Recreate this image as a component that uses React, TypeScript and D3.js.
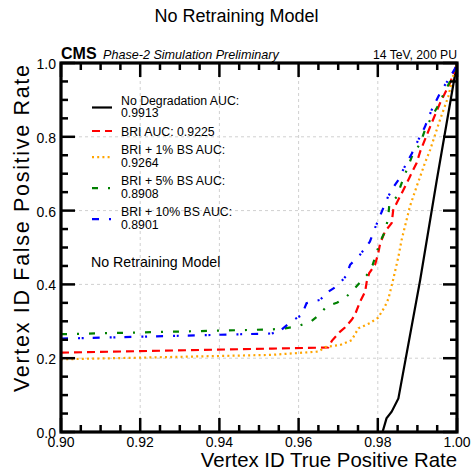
import React from "react";
import * as d3 from "d3";

// ---- data ----
const blackTPR = [0.9812, 0.9822, 0.9835, 0.9852, 0.9907, 0.9949, 0.9995, 1.0];
const blackFPR = [0.0, 0.037, 0.055, 0.091, 0.412, 0.683, 0.968, 1.0];

const redTPR = [0.9, 0.9532, 0.9675, 0.9684, 0.9705, 0.9717, 0.9734, 0.9742, 0.9755, 0.9768, 0.9772, 0.9778, 0.9793, 0.9801, 0.9806, 0.9818, 0.9835, 0.9839, 0.9856, 0.9873, 0.9881, 0.9898, 0.9907, 0.9932, 0.9957, 0.9982, 0.9995, 1.0];
const redFPR = [0.215, 0.226, 0.229, 0.247, 0.272, 0.283, 0.304, 0.317, 0.353, 0.38, 0.407, 0.43, 0.453, 0.484, 0.511, 0.543, 0.566, 0.602, 0.638, 0.674, 0.692, 0.729, 0.76, 0.827, 0.891, 0.945, 0.981, 1.0];

const orangeTPR = [0.9, 0.9532, 0.965, 0.9667, 0.9705, 0.9734, 0.9751, 0.978, 0.9801, 0.9818, 0.9827, 0.9839, 0.9852, 0.986, 0.9881, 0.9898, 0.9907, 0.9919, 0.9932, 0.9957, 0.9978, 0.9992, 1.0];
const orangeFPR = [0.197, 0.209, 0.218, 0.23, 0.236, 0.249, 0.281, 0.295, 0.31, 0.34, 0.362, 0.414, 0.475, 0.52, 0.611, 0.665, 0.692, 0.729, 0.764, 0.846, 0.909, 0.972, 1.0];

const greenTPR = [0.9, 0.9532, 0.9566, 0.96, 0.9633, 0.9654, 0.9671, 0.9698, 0.9721, 0.9738, 0.9755, 0.9772, 0.9787, 0.9806, 0.9818, 0.9826, 0.9829, 0.9848, 0.986, 0.9873, 0.9886, 0.9907, 0.9919, 0.9936, 0.9953, 0.9967, 0.9982, 0.9995, 1.0];
const greenFPR = [0.265, 0.278, 0.281, 0.287, 0.301, 0.319, 0.341, 0.351, 0.367, 0.385, 0.405, 0.425, 0.453, 0.516, 0.543, 0.579, 0.615, 0.638, 0.674, 0.71, 0.746, 0.782, 0.818, 0.854, 0.886, 0.918, 0.949, 0.981, 1.0];

const blueTPR = [0.9, 0.9532, 0.9553, 0.9583, 0.9608, 0.962, 0.9654, 0.9675, 0.97, 0.972, 0.973, 0.9755, 0.978, 0.9793, 0.981, 0.9826, 0.9843, 0.9852, 0.9866, 0.9886, 0.9902, 0.9919, 0.9936, 0.9961, 0.9978, 0.9995, 1.0];
const blueFPR = [0.253, 0.267, 0.274, 0.301, 0.317, 0.349, 0.358, 0.38, 0.398, 0.423, 0.453, 0.48, 0.516, 0.553, 0.597, 0.638, 0.669, 0.683, 0.715, 0.755, 0.791, 0.827, 0.873, 0.927, 0.954, 0.985, 1.0];

const legendLabels = [
  ["No Degradation AUC:", "0.9913"],
  ["BRI AUC: 0.9225"],
  ["BRI + 1% BS AUC:", "0.9264"],
  ["BRI + 5% BS AUC:", "0.8908"],
  ["BRI + 10% BS AUC:", "0.8901"],
];

const xTickLabels = ["0.90", "0.92", "0.94", "0.96", "0.98", "1.00"];
const yTickLabels = ["0.0", "0.2", "0.4", "0.6", "0.8", "1.0"];

const series = [
  { tpr: blackTPR, fpr: blackFPR, color: "#000000", dash: "none" },
  { tpr: redTPR, fpr: redFPR, color: "#ff0000", dash: "8,5" },
  { tpr: orangeTPR, fpr: orangeFPR, color: "#ffa500", dash: "2,3.2" },
  { tpr: greenTPR, fpr: greenFPR, color: "#008000", dash: "6,10,2,10" },
  { tpr: blueTPR, fpr: blueFPR, color: "#0000ff", dash: "7,10,2,1.7,2,9" },
];

const FONT = "'Liberation Sans', Arial, Helvetica, sans-serif";

export default function App() {
  const W = 473, H = 474;
  const L = 61, R = 457, T = 63, B = 432;
  const x = d3.scaleLinear().domain([0.9, 1.0]).range([L, R]);
  const y = d3.scaleLinear().domain([0, 1]).range([B, T]);

  const xMajor = xTickLabels.map(Number);
  const yMajor = yTickLabels.map(Number);
  const xMinor = d3.range(0, 21).map((i) => 0.9 + i * 0.005).filter((v) => !xMajor.some((m) => Math.abs(m - v) < 1e-9));
  const yMinor = d3.range(0, 21).map((i) => i * 0.05).filter((v) => !yMajor.some((m) => Math.abs(m - v) < 1e-9));

  const line = d3.line<[number, number]>().x((d) => x(d[0])).y((d) => y(d[1]));

  const majLen = 14, minLen = 7;

  // legend layout
  const lineH = 12.4;
  let cy = 100;
  const legendRows = legendLabels.map((lines, i) => {
    const row = { lines, top: cy, sampleY: lines.length > 1 ? cy + 7.5 : cy, s: series[i] };
    cy += lines.length * lineH + 6.2;
    return row;
  });

  return (
    <svg width={W} height={H} style={{ position: "absolute", left: 0, top: 0, background: "#fff" }} fontFamily={FONT}>
      <defs>
        <clipPath id="plotclip">
          <rect x={L} y={T} width={R - L} height={B - T} />
        </clipPath>
      </defs>
      <rect x={0} y={0} width={W} height={H} fill="#fff" />
      <text x={W / 2} y={22} textAnchor="middle" fontSize={18}>No Retraining Model</text>

      {/* grid */}
      {xMajor.slice(1, -1).map((v) => (
        <line key={"gx" + v} x1={x(v)} x2={x(v)} y1={T} y2={B} stroke="#d0d0d0" strokeWidth={1} strokeDasharray="3,3" />
      ))}
      {yMajor.slice(1, -1).map((v) => (
        <line key={"gy" + v} x1={L} x2={R} y1={y(v)} y2={y(v)} stroke="#d0d0d0" strokeWidth={1} strokeDasharray="3,3" />
      ))}

      {/* curves */}
      <g clipPath="url(#plotclip)">
        {series.map((s, i) => (
          <path key={i} d={line(s.tpr.map((t, j) => [t, s.fpr[j]] as [number, number])) || ""} fill="none"
            stroke={s.color} strokeWidth={2.2} strokeDasharray={s.dash} strokeLinecap="butt" />
        ))}
      </g>

      {/* ticks */}
      <g stroke="#000" strokeWidth={2.5}>
        {xMajor.map((v) => (
          <g key={"xm" + v}>
            <line x1={x(v)} x2={x(v)} y1={B} y2={B - majLen} />
            <line x1={x(v)} x2={x(v)} y1={T} y2={T + majLen} />
          </g>
        ))}
        {xMinor.map((v) => (
          <g key={"xn" + v}>
            <line x1={x(v)} x2={x(v)} y1={B} y2={B - minLen} />
            <line x1={x(v)} x2={x(v)} y1={T} y2={T + minLen} />
          </g>
        ))}
        {yMajor.map((v) => (
          <g key={"ym" + v}>
            <line x1={L} x2={L + majLen} y1={y(v)} y2={y(v)} />
            <line x1={R} x2={R - majLen} y1={y(v)} y2={y(v)} />
          </g>
        ))}
        {yMinor.map((v) => (
          <g key={"yn" + v}>
            <line x1={L} x2={L + minLen} y1={y(v)} y2={y(v)} />
            <line x1={R} x2={R - minLen} y1={y(v)} y2={y(v)} />
          </g>
        ))}
      </g>
      <rect x={L} y={T} width={R - L} height={B - T} fill="none" stroke="#000" strokeWidth={3.2} />

      {/* tick labels */}
      {xTickLabels.map((t) => (
        <text key={"xl" + t} x={x(+t)} y={B + 15} textAnchor="middle" fontSize={14}>{t}</text>
      ))}
      {yTickLabels.map((t) => (
        <text key={"yl" + t} x={L - 5} y={y(+t) + 6} textAnchor="end" fontSize={14}>{t}</text>
      ))}

      {/* axis titles */}
      <text x={R} y={467} textAnchor="end" fontSize={20.4}>Vertex ID True Positive Rate</text>
      <text transform={`translate(29,${T + 2}) rotate(-90)`} textAnchor="end" fontSize={21.5}
        textLength={327} lengthAdjust="spacing">Vertex ID False Positive Rate</text>

      {/* CMS header */}
      <text x={L} y={59} fontSize={16} fontWeight="bold">CMS</text>
      <text x={103} y={59} fontSize={12.6} fontStyle="italic">Phase-2 Simulation Preliminary</text>
      <text x={R} y={59} textAnchor="end" fontSize={12.2}>14 TeV, 200 PU</text>

      {/* legend */}
      {legendRows.map((r, i) => (
        <g key={"lg" + i}>
          <line x1={92} x2={112} y1={r.sampleY} y2={r.sampleY} stroke={r.s.color} strokeWidth={2.2}
            strokeDasharray={r.s.dash} />
          {r.lines.map((t, k) => (
            <text key={k} x={121} y={r.top + k * lineH + 4.5} fontSize={12.3}>{t}</text>
          ))}
        </g>
      ))}
      <text x={91} y={266.5} fontSize={14.2}>No Retraining Model</text>
    </svg>
  );
}
